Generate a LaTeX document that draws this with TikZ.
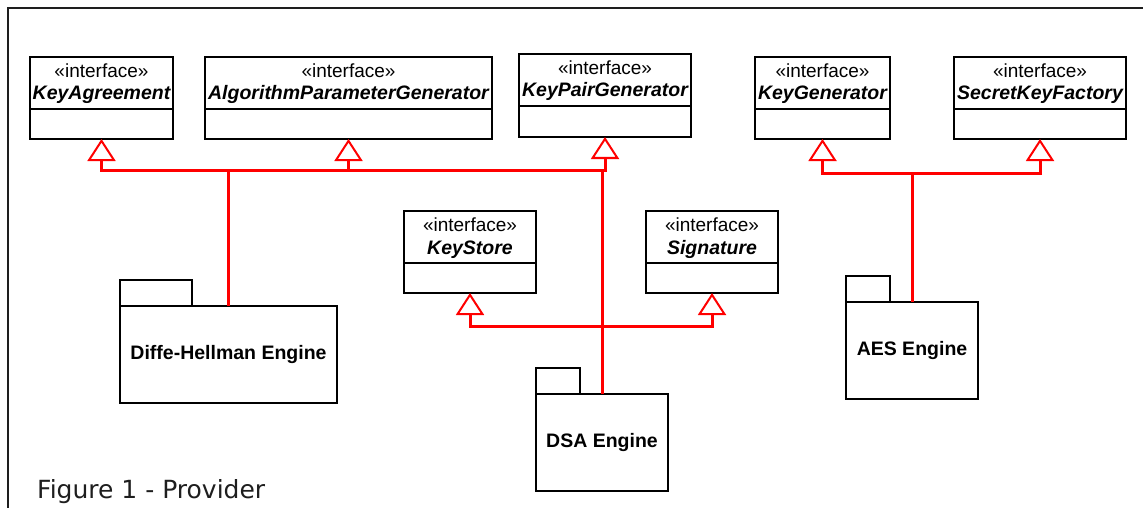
\documentclass[tikz,border=0pt]{standalone}
\usepackage{fontspec}
\setmainfont{Liberation Sans}
\newfontfamily\captionfont{DejaVu Sans}
\usetikzlibrary{calc,arrows.meta}

\definecolor{genred}{RGB}{255,0,0}
\definecolor{framegray}{RGB}{30,30,30}

\tikzset{
  boxline/.style={draw=black, line width=1.6pt},
  classbox/.style={boxline, rectangle, inner sep=0pt, outer sep=0pt, anchor=north west, fill=white},
  stereo/.style={anchor=base, inner sep=0pt, font=\fontsize{19}{22}\selectfont},
  cname/.style={anchor=base, inner sep=0pt, font=\fontsize{19.5}{22}\selectfont\bfseries\itshape},
  pkgbox/.style={boxline, rectangle, inner sep=0pt, outer sep=0pt, anchor=north west,
                 font=\fontsize{19.5}{22}\selectfont\bfseries},
  link/.style={draw=genred, line width=3pt},
  gen/.style={link, -{Triangle[open, length=22pt, width=28pt, line width=2pt, color=genred, fill=white]}},
}

% interface class box: name, left, top, right, bottom, class name
\newcommand\ifacebox[6]{%
  \node[classbox, minimum width=#4pt-#2pt, minimum height=#5pt-#3pt] (#1) at (#2,#3) {};
  \draw[boxline] ($(#1.north west)+(0,52)$) -- ($(#1.north east)+(0,52)$);
  \node[stereo] (#1-st) at ($(#1.north)+(0,20.5)$) {«interface»};
  \node[cname] (#1-nm) at ($(#1.north)+(0,43)$) {#6};
}

% package: name, left, top, right, bottom, tab width, label
\newcommand\pkgbox[7]{%
  \node[pkgbox, minimum width=#4pt-#2pt, minimum height=#5pt-#3pt] (#1) at (#2,#3) {#7};
  \draw[boxline] (#1.north west) rectangle ++(#6,-26);
}

\begin{document}
\begin{tikzpicture}[x=1pt, y=-1pt]
  \useasboundingbox (0,0) rectangle (1143,508);
  \clip (0,0) rectangle (1143,508);

  % outer frame
  \draw[framegray, line width=1.8pt] (8,8) rectangle (1170,540);

  % interfaces
  \ifacebox{ka}{30}{57}{173}{139}{KeyAgreement}
  \ifacebox{apg}{205}{57}{492}{139}{AlgorithmParameterGenerator}
  \ifacebox{kpg}{519}{54}{691}{137}{KeyPairGenerator}
  \ifacebox{kg}{755}{57}{890}{139}{KeyGenerator}
  \ifacebox{skf}{954}{57}{1126}{139}{SecretKeyFactory}
  \ifacebox{ks}{404}{211}{536}{293}{KeyStore}
  \ifacebox{sig}{646}{211}{778}{293}{Signature}

  % engine packages
  \pkgbox{dh}{120}{306}{337}{403}{72}{Diffe-Hellman Engine}
  \pkgbox{dsa}{536}{394}{668}{491}{44}{DSA Engine}
  \pkgbox{aes}{846}{302}{978}{399}{44}{AES Engine}

  % junction points of the generalisation trees
  \coordinate (dhj) at (228.5,170);
  \coordinate (kpgj) at (605,170);
  \coordinate (dsaj) at (602,326);
  \coordinate (aesj) at (912,173);

  % Diffe-Hellman engine
  \draw[link] (dh.north) -- (dhj) -- (kpgj);
  \draw[gen] (dhj) -| (ka.south);
  \draw[gen] (dhj) -| (apg.south);

  % DSA engine
  \draw[gen] (dsa.north) |- (kpgj) -- (kpg.south);
  \draw[gen] (dsaj) -| (ks.south);
  \draw[gen] (dsaj) -| (sig.south);

  % AES engine
  \draw[link] (aes.north) -- (aesj);
  \draw[gen] (aesj) -| (kg.south);
  \draw[gen] (aesj) -| (skf.south);

  % caption
  \node[anchor=base west, inner sep=0pt, font=\captionfont\fontsize{25}{28}\selectfont, text=framegray]
    (caption) at (37,498) {Figure 1 - Provider};
\end{tikzpicture}
\end{document}
